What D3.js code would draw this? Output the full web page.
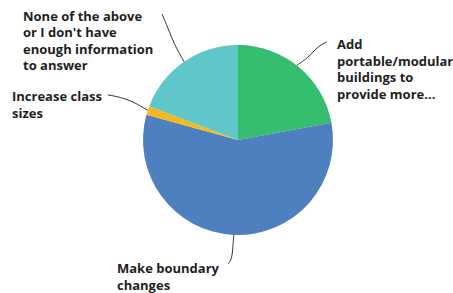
<!DOCTYPE html>
<html>
<head>
<meta charset="utf-8">
<script src="https://cdn.jsdelivr.net/npm/d3@7"></script>
<style>
  body { margin: 0; background: #fff; }
  text { font-family: "Open Sans", sans-serif; font-weight: 700; font-size: 13px; fill: #1e1e1e; }
</style>
</head>
<body>
<div id="chart"></div>
<script>
// answer options, clockwise from 12 o'clock
const categories = [
  "Add portable/modular buildings to provide more...",
  "Make boundary changes",
  "Increase class sizes",
  "None of the above or I don't have enough information to answer"
];
const values = [22.1, 57.2, 1.5, 19.2];
const colors = ["#34be6e", "#4e7fbf", "#f6b81c", "#5fc6ca"];
// wrapped label lines as shown on the chart
const labelLines = [
  ["Add", "portable/modular", "buildings to", "provide more..."],
  ["Make boundary", "changes"],
  ["Increase class", "sizes"],
  ["None of the above", "or I don't have", "enough information", "to answer"]
];

const width = 453, height = 293;
const cx = 238, cy = 140, radius = 95;

const svg = d3.select("#chart").append("svg")
  .attr("width", width)
  .attr("height", height);

const pie = d3.pie().sort(null).value((d) => d);
const arcs = pie(values);
const arc = d3.arc().innerRadius(0).outerRadius(radius);

const g = svg.append("g").attr("transform", `translate(${cx},${cy})`);
g.selectAll("path.slice")
  .data(arcs)
  .enter()
  .append("path")
  .attr("class", "slice")
  .attr("d", arc)
  .attr("fill", (d, i) => colors[i]);

// label placement: text anchor point and leader line bends (page coords)
const labels = [
  { x: 337, y: 49, leader: [[327, 42], [318, 46], [308, 58]] },
  { x: 117, y: 273, leader: [[228, 264], [232, 259], [233, 245]] },
  { x: 12, y: 101, leader: [[108, 95], [120, 97], [134, 102]] },
  { x: 23, y: 20.5, leader: [[162, 14], [168, 28], [174, 44]] }
];

const line = d3.line().curve(d3.curveBasis);
labels.forEach((lab, i) => {
  const a = arcs[i];
  const mid = i === 0 ? a.startAngle + (a.endAngle - a.startAngle) * 0.48 : (a.startAngle + a.endAngle) / 2;
  const end = [cx + Math.sin(mid) * radius, cy - Math.cos(mid) * radius];
  svg.append("path")
    .attr("d", line([...lab.leader, end]))
    .attr("fill", "none")
    .attr("stroke", "#333")
    .attr("stroke-width", 1);

  const t = svg.append("text").attr("x", lab.x).attr("y", lab.y);
  t.selectAll("tspan")
    .data(labelLines[i])
    .enter()
    .append("tspan")
    .attr("x", lab.x)
    .attr("dy", (d, j) => (j === 0 ? 0 : 16.5))
    .text((d) => d);
});
</script>
</body>
</html>
